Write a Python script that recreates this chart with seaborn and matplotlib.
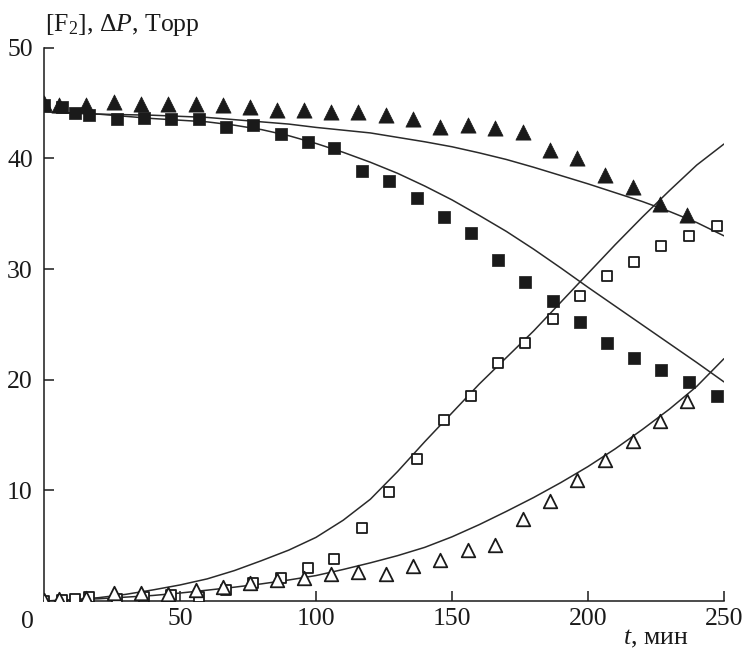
import numpy as np
import pandas as pd
import matplotlib
matplotlib.use("Agg")
import matplotlib.pyplot as plt
import seaborn as sns

# ---- data ----
t_sq = [0, 6.5, 11.5, 16.5, 26.7, 36.8, 46.8, 56.9, 66.9, 77, 87, 96.9, 106.8, 117,
        127, 137, 147, 157, 167, 177, 187, 197, 207, 217, 227, 237.2, 247.3]
f2_sq = [44.8, 44.6, 44.1, 43.9, 43.55, 43.65, 43.55, 43.55, 42.8, 43.0, 42.2, 41.5, 40.9,
         38.9, 38.0, 36.4, 34.7, 33.3, 30.8, 28.8, 27.1, 25.2, 23.3, 22.0, 20.85, 19.8, 18.5]
dp_sq = [0.0, 0.05, 0.2, 0.33, 0.2, 0.33, 0.5, 0.33, 1.0, 1.65, 2.05, 2.95, 3.82,
         6.56, 9.84, 12.8, 16.4, 18.5, 21.5, 23.35, 25.5, 27.6, 29.4, 30.6, 32.1, 33.0, 33.9]

t_tri = [0, 5.6, 15.6, 25.6, 35.7, 45.7, 55.8, 65.7, 75.7, 85.8, 95.7, 105.6, 115.6,
         125.7, 135.7, 145.7, 155.8, 165.9, 176, 186, 196, 206.2, 216.4, 226.5, 236.5]
f2_tri = [45.0, 44.8, 44.8, 45.1, 44.9, 44.9, 44.9, 44.8, 44.6, 44.4, 44.4, 44.2, 44.2,
          43.95, 43.6, 42.8, 43.0, 42.75, 42.4, 40.8, 40.0, 38.5, 37.4, 35.9, 34.9]
dp_tri = [0.05, 0.15, 0.3, 0.7, 0.7, 0.6, 1.0, 1.3, 1.6, 1.9, 2.1, 2.4, 2.6,
          2.4, 3.2, 3.7, 4.6, 5.1, 7.4, 9.0, 10.9, 12.7, 14.5, 16.3, 18.05]

t_fit = list(range(0, 251, 10))
fit_f2_tri = [44.2, 44.1, 44.0, 43.95, 43.9, 43.8, 43.7, 43.5, 43.3, 43.1, 42.8, 42.55, 42.3,
              41.9, 41.5, 41.05, 40.5, 39.9, 39.2, 38.45, 37.7, 36.9, 36.1, 35.2, 34.2, 33.0]
fit_f2_sq = [44.2, 44.1, 44.0, 43.8, 43.6, 43.45, 43.3, 43.0, 42.6, 42.05, 41.35, 40.55, 39.65,
             38.65, 37.5, 36.25, 34.85, 33.4, 31.8, 30.1, 28.35, 26.65, 24.95, 23.25, 21.55, 19.8]
fit_dp_sq = [0.0, 0.1, 0.3, 0.6, 1.0, 1.45, 2.0, 2.75, 3.65, 4.6, 5.75, 7.3, 9.2,
             11.7, 14.4, 17.0, 19.6, 22.0, 24.4, 27.0, 29.6, 32.2, 34.7, 37.1, 39.4, 41.3]
fit_dp_tri = [0.0, 0.1, 0.2, 0.35, 0.5, 0.72, 0.98, 1.25, 1.55, 1.9, 2.3, 2.85, 3.45,
              4.1, 4.85, 5.8, 6.9, 8.1, 9.35, 10.7, 12.15, 13.75, 15.5, 17.35, 19.4, 21.9]

x_ticks = [50, 100, 150, 200, 250]
y_ticks = [10, 20, 30, 40, 50]

# ---- style ----
sns.set_style("ticks")
plt.rcParams["font.family"] = ["Liberation Serif", "DejaVu Serif"]
plt.rcParams["mathtext.fontset"] = "custom"
plt.rcParams["mathtext.rm"] = "Liberation Serif"
plt.rcParams["mathtext.it"] = "Liberation Serif:italic"

ink = "#1a1a1a"
fs = 18.5
fig = plt.figure(figsize=(7.43, 6.52), dpi=100)
ax = fig.add_axes([0.0592, 0.0782, 0.9152, 0.8486])

for ys in (fit_f2_tri, fit_f2_sq, fit_dp_sq, fit_dp_tri):
    sns.lineplot(x=t_fit, y=ys, ax=ax, color="#2a2a2a", lw=1.1, zorder=2)

sns.scatterplot(x=t_tri, y=f2_tri, ax=ax, marker="^", s=120, color=ink,
                edgecolor=ink, linewidth=0.5, zorder=3)
sns.scatterplot(x=t_sq, y=f2_sq, ax=ax, marker="s", s=64, color=ink,
                edgecolor=ink, linewidth=0.5, zorder=3)
sns.scatterplot(x=t_sq, y=dp_sq, ax=ax, marker="s", s=48, color="white",
                edgecolor=ink, linewidth=1.3, zorder=3)
sns.scatterplot(x=t_tri, y=dp_tri, ax=ax, marker="^", s=95, color="white",
                edgecolor=ink, linewidth=1.3, zorder=3)

ax.set_xlim(0, 250)
ax.set_ylim(0, 50)
ax.set_xticks(x_ticks)
ax.set_yticks(y_ticks)
ax.set_xticklabels([str(v) for v in x_ticks])
ax.set_yticklabels([str(v) for v in y_ticks])
ax.tick_params(direction="in", length=7, width=1.1, colors=ink, labelsize=fs, pad=8)
ax.tick_params(axis="x", pad=5)
sns.despine(ax=ax)
for s in ("left", "bottom"):
    ax.spines[s].set_linewidth(1.1)
    ax.spines[s].set_color(ink)
ax.set_xlabel("")
ax.set_ylabel("")

# origin label and axis titles
fig.text(27 / 743, 1 - 628 / 652, "0", fontsize=fs, color=ink, ha="center", va="baseline")
fig.text(45 / 743, 1 - 31 / 652, r"[F$_2$], Δ$P$, Торр", fontsize=fs, color=ink,
         ha="left", va="baseline")
fig.text(688 / 743, 1 - 644 / 652, r"$t$, мин", fontsize=fs, color=ink,
         ha="right", va="baseline")

fig.savefig("out.png", dpi=100)
